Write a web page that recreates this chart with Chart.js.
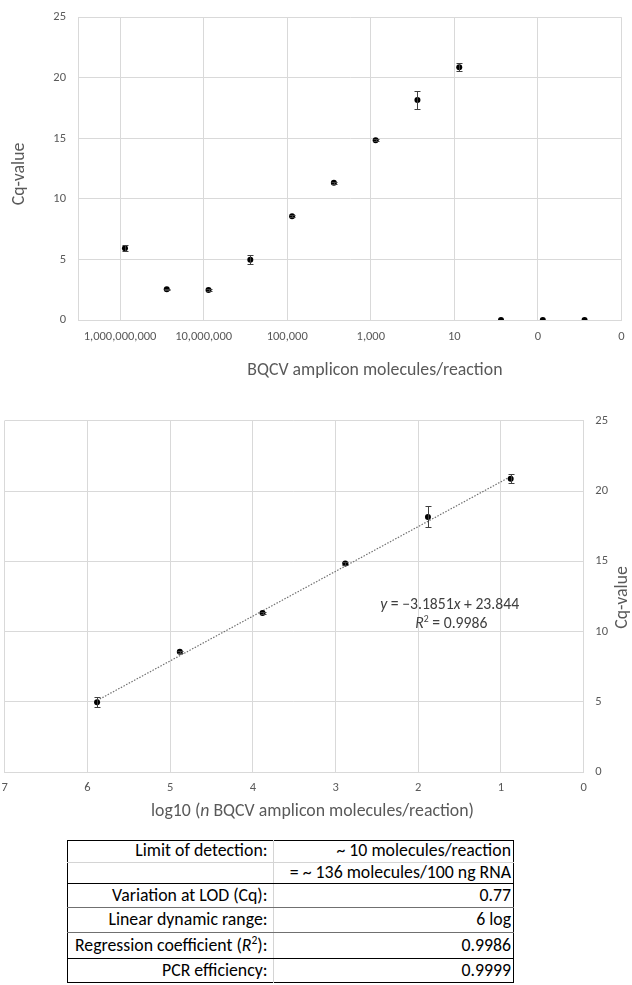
<!DOCTYPE html>
<html>
<head>
<meta charset="utf-8">
<script src="https://cdn.jsdelivr.net/npm/chart.js@4.4.1/dist/chart.umd.min.js"></script>
<style>
  html, body { margin:0; padding:0; background:#fff; width:632px; height:985px; overflow:hidden; }
  #c1 { position:absolute; left:0; top:0; }
  #c2 { position:absolute; left:0; top:395px; }
  #stats { position:absolute; left:67px; top:840px; width:447px; border-collapse:collapse; table-layout:fixed;
           font-family:Carlito, Calibri, Lato, sans-serif; font-size:17.8px; color:#000; border:1px solid #000; }
  #stats td { padding:0 4px 0 0; text-align:right; vertical-align:middle; white-space:nowrap; line-height:1; }
  #stats td:first-child { border-right:1px solid #d4d4d4; padding-right:5px; }
  #stats td:last-child { padding-right:2px; }
  #stats sup { font-size:11.5px; vertical-align:7px; line-height:0; }
</style>
</head>
<body>
<canvas id="c1" width="632" height="385"></canvas>
<canvas id="c2" width="632" height="435"></canvas>
<table id="stats"></table>
<script>
// ---------- data ----------
const moleculesPerReaction = [7.65e8, 7.65e7, 7.65e6, 7.65e5, 7.65e4, 7.65e3, 765, 76.5, 7.65, 0.765, 0.0765, 0.00765];
const cqMean = [5.93, 2.54, 2.48, 4.98, 8.57, 11.33, 14.84, 18.16, 20.87, 0, 0, 0];
const cqError = [0.25, 0.05, 0.05, 0.37, 0.08, 0.06, 0.08, 0.75, 0.32, 0, 0, 0];

const log10Molecules = [5.883, 4.883, 3.883, 2.883, 1.883, 0.883];
const cqLinear = [4.98, 8.57, 11.33, 14.84, 18.16, 20.87];
const cqLinearError = [0.37, 0.08, 0.06, 0.08, 0.75, 0.32];

const trendSlope = -3.1851;
const trendIntercept = 23.844;
const trendR2 = 0.9986;

const topXTickValues = [1e9, 1e7, 1e5, 1e3, 10, 0.1, 0.001];
const topXTickLabels = ['1,000,000,000', '10,000,000', '100,000', '1,000', '10', '0', '0'];
const cqTickValues = [0, 5, 10, 15, 20, 25];
const logTickValues = [0, 1, 2, 3, 4, 5, 6, 7];

const tableLabels = ['Limit of detection:', '', 'Variation at LOD (Cq):', 'Linear dynamic range:', 'Regression coefficient (<i>R</i><sup>2</sup>):', 'PCR efficiency:'];
const tableValues = ['~ 10 molecules/reaction', '= ~ 136 molecules/100 ng RNA', '0.77', '6 log', '0.9986', '0.9999'];

// ---------- styles ----------
const FONT = 'Carlito, Calibri, Lato, sans-serif';
const GRID = '#d9d9d9';
const TICK_COLOR = '#595959';
const tickFont = { family: FONT, size: 12.5 };

// ---------- plugins ----------
const errorBars = {
  id: 'errorBars',
  afterDatasetsDraw(chart, args, opts) {
    const ctx = chart.ctx;
    chart.data.datasets.forEach((ds, di) => {
      if (!ds.errors) return;
      const meta = chart.getDatasetMeta(di);
      const xs = chart.scales[meta.xAxisID], ys = chart.scales[meta.yAxisID];
      ctx.save();
      ctx.strokeStyle = opts.color || '#404040';
      ctx.lineWidth = 1;
      ds.data.forEach((p, i) => {
        const e = ds.errors[i];
        if (!e) return;
        const x = Math.round(xs.getPixelForValue(p.x)) + 0.5;
        const yLo = Math.round(ys.getPixelForValue(p.y - e)) + 0.5;
        const yHi = Math.round(ys.getPixelForValue(p.y + e)) + 0.5;
        const cap = opts.cap || 3;
        ctx.beginPath();
        ctx.moveTo(x, yLo); ctx.lineTo(x, yHi);
        ctx.moveTo(x - cap, yLo); ctx.lineTo(x + cap, yLo);
        ctx.moveTo(x - cap, yHi); ctx.lineTo(x + cap, yHi);
        ctx.stroke();
      });
      ctx.restore();
    });
  }
};

const textItems = {
  id: 'textItems',
  afterDraw(chart, args, opts) {
    const ctx = chart.ctx;
    const ca = chart.chartArea;
    (opts.items || []).forEach(it => {
      let x, y;
      if (it.at === 'data') {
        x = chart.scales.x.getPixelForValue(it.x);
        y = chart.scales.y.getPixelForValue(it.y);
      } else if (it.at === 'below') {
        x = (ca.left + ca.right) / 2 + it.dx;
        y = ca.bottom + it.dy;
      } else if (it.at === 'left') {
        x = ca.left - it.dx;
        y = (ca.top + ca.bottom) / 2 + it.dy;
      } else {
        x = ca.right + it.dx;
        y = (ca.top + ca.bottom) / 2 + it.dy;
      }
      ctx.save();
      ctx.translate(x, y);
      if (it.rotate) ctx.rotate(it.rotate);
      const segs = it.segments.map(s => {
        const size = s.sup ? it.size * 0.62 : it.size;
        const font = (s.italic ? 'italic ' : '') + size + 'px ' + it.family;
        ctx.font = font;
        return { text: s.text, sup: s.sup, font, w: ctx.measureText(s.text).width };
      });
      const total = segs.reduce((a, s) => a + s.w, 0);
      let cx = -total / 2;
      ctx.fillStyle = it.color;
      ctx.textBaseline = 'middle';
      ctx.textAlign = 'left';
      segs.forEach(s => {
        ctx.font = s.font;
        ctx.fillText(s.text, cx, s.sup ? -it.size * 0.32 : 0);
        cx += s.w;
      });
      ctx.restore();
    });
  }
};

// ---------- top chart ----------
new Chart(document.getElementById('c1'), {
  type: 'scatter',
  data: {
    datasets: [{
      data: moleculesPerReaction.map((m, i) => ({ x: m, y: cqMean[i] })),
      errors: cqError,
      pointRadius: 3, pointHoverRadius: 3,
      pointBackgroundColor: '#000', pointBorderWidth: 0
    }]
  },
  options: {
    responsive: false, animation: false, events: [],
    layout: { padding: { left: 0, right: 10.5, top: 17.3, bottom: 0 } },
    plugins: {
      legend: { display: false }, tooltip: { enabled: false },
      errorBars: { color: '#404040', cap: 3 },
      textItems: { items: [
        { at: 'below', dx: 25, dy: 50.7, size: 17.8, family: FONT, color: TICK_COLOR,
          segments: [{ text: 'BQCV amplicon molecules/reaction' }] },
        { at: 'left', dx: 58.3, dy: 5.3, rotate: -Math.PI / 2, size: 17.8, family: FONT, color: TICK_COLOR,
          segments: [{ text: 'Cq-value' }] }
      ] }
    },
    scales: {
      x: {
        type: 'logarithmic', reverse: true, min: 1e-3, max: 1e10,
        afterBuildTicks: s => { s.ticks = topXTickValues.map(v => ({ value: v })); },
        afterFit: s => { s.height = 65; s.paddingLeft = 0; s.paddingRight = 0; },
        ticks: { autoSkip: false, maxRotation: 0, padding: 9.8, font: tickFont, color: TICK_COLOR,
                 callback: (v, i) => topXTickLabels[i] },
        grid: { color: GRID, drawTicks: false },
        border: { color: GRID }
      },
      y: {
        min: 0, max: 25,
        afterBuildTicks: s => { s.ticks = cqTickValues.map(v => ({ value: v })); },
        afterFit: s => { s.width = 78.3; s.paddingTop = 0; s.paddingBottom = 0; },
        ticks: { padding: 12.3, font: tickFont, color: TICK_COLOR },
        grid: { color: GRID, drawTicks: false },
        border: { color: GRID }
      }
    }
  },
  plugins: [errorBars, textItems]
});

// ---------- bottom chart ----------
const trendX = [log10Molecules[0], log10Molecules[log10Molecules.length - 1]];
new Chart(document.getElementById('c2'), {
  type: 'scatter',
  data: {
    datasets: [{
      data: log10Molecules.map((v, i) => ({ x: v, y: cqLinear[i] })),
      errors: cqLinearError,
      pointRadius: 3, pointHoverRadius: 3,
      pointBackgroundColor: '#000', pointBorderWidth: 0, order: 1
    }, {
      type: 'line',
      data: trendX.map(x => ({ x, y: trendSlope * x + trendIntercept })),
      borderColor: '#6f6f6f', borderWidth: 1.2, borderDash: [1.5, 1.5],
      pointRadius: 0, fill: false, order: 2
    }]
  },
  options: {
    responsive: false, animation: false, events: [],
    layout: { padding: { left: 4.7, right: 0, top: 25.7, bottom: 0 } },
    plugins: {
      legend: { display: false }, tooltip: { enabled: false },
      errorBars: { color: '#404040', cap: 3 },
      textItems: { items: [
        { at: 'below', dx: 18.3, dy: 39.4, size: 17.8, family: FONT, color: TICK_COLOR,
          segments: [{ text: 'log10 (' }, { text: 'n', italic: true }, { text: ' BQCV amplicon molecules/reaction)' }] },
        { at: 'right', dx: 39, dy: 1, rotate: -Math.PI / 2, size: 17.8, family: FONT, color: TICK_COLOR,
          segments: [{ text: 'Cq-value' }] },
        { at: 'data', x: 1.62, y: 11.86, size: 15.7, family: FONT, color: '#404040',
          segments: [{ text: 'y', italic: true }, { text: ' = \u22123.1851' }, { text: 'x', italic: true }, { text: ' + 23.844' }] },
        { at: 'data', x: 1.60, y: 10.51, size: 15.7, family: FONT, color: '#404040',
          segments: [{ text: 'R', italic: true }, { text: '2', sup: true }, { text: ' = ' + trendR2 }] }
      ] }
    },
    scales: {
      x: {
        type: 'linear', reverse: true, min: 0, max: 7,
        afterBuildTicks: s => { s.ticks = logTickValues.map(v => ({ value: v })); },
        afterFit: s => { s.height = 57.7; s.paddingLeft = 0; s.paddingRight = 0; },
        ticks: { autoSkip: false, maxRotation: 0, padding: 8.5, font: tickFont, color: TICK_COLOR },
        grid: { color: GRID, drawTicks: false },
        border: { color: GRID }
      },
      y: {
        position: 'right', min: 0, max: 25,
        afterBuildTicks: s => { s.ticks = cqTickValues.map(v => ({ value: v })); },
        afterFit: s => { s.width = 48.3; s.paddingTop = 0; s.paddingBottom = 0; },
        ticks: { padding: 11.6, font: tickFont, color: TICK_COLOR },
        grid: { color: GRID, drawTicks: false },
        border: { color: GRID }
      }
    }
  },
  plugins: [errorBars, textItems]
});

// ---------- table ----------
const rowHeights = [21.7, 21.6, 24, 24.4, 26.6, 24];
const rowBorders = ['1px solid #d4d4d4', '1px solid #000', '1px solid #707070', '1px solid #707070', '1px solid #000', 'none'];
const tbl = document.getElementById('stats');
tbl.innerHTML = '<colgroup><col style="width:205.5px"><col></colgroup>' +
  tableLabels.map((lab, i) =>
    '<tr style="height:' + rowHeights[i] + 'px"><td style="border-bottom:' + rowBorders[i] + '">' + lab +
    '</td><td style="border-bottom:' + rowBorders[i] + '">' + tableValues[i] + '</td></tr>').join('');
</script>
</body>
</html>
